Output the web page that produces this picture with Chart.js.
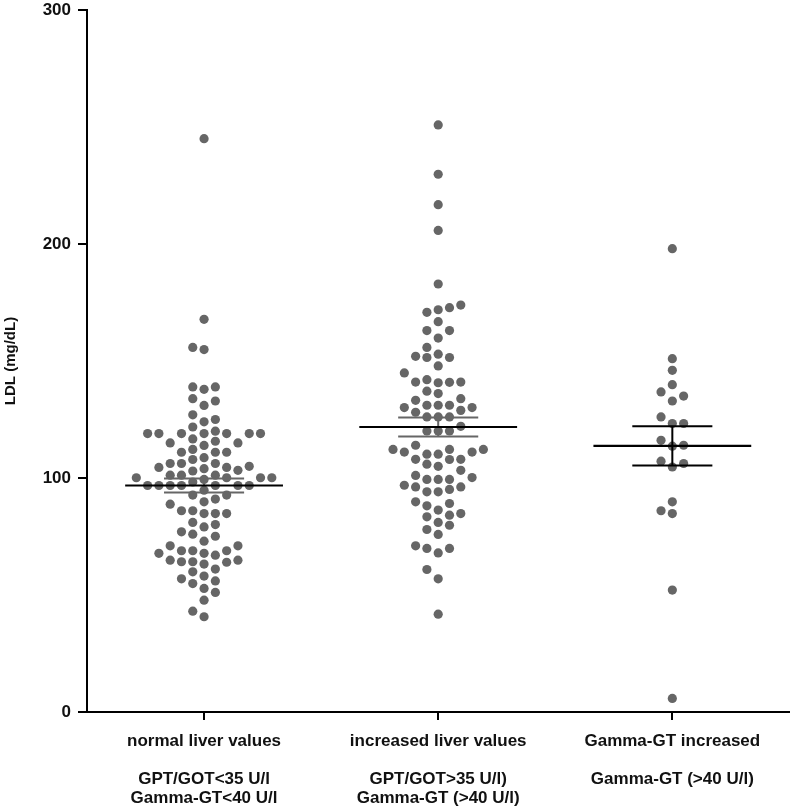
<!DOCTYPE html>
<html><head><meta charset="utf-8">
<script src="https://cdn.jsdelivr.net/npm/chart.js@4"></script>
<style>html,body{margin:0;padding:0;background:#fff}#wrap{width:794px;height:809px;position:relative}</style>
</head><body><div id="wrap"><canvas id="c"></canvas></div>
<script>
const categories = ['normal liver values', 'increased liver values', 'Gamma-GT increased'];
const subLabels = [
  ['GPT/GOT<35 U/l', 'Gamma-GT<40 U/l'],
  ['GPT/GOT>35 U/l)', 'Gamma-GT (>40 U/l)'],
  ['Gamma-GT (>40 U/l)']
];
const yTicks = [0, 100, 200, 300];
const yTitle = 'LDL (mg/dL)';

const normalLiver = [245, 167.8, 155.8, 154.9, 138.9, 138.9, 137.9, 133.9, 132.9, 131.0, 127.0, 125.0, 124.0,
  121.8, 120, 119, 119, 119, 119, 119, 119, 119, 116.7, 115.7, 115, 115, 113.9, 112.2, 111, 111, 111,
  108.7, 107.9, 106.2, 106.2, 106.2, 105, 104.5, 104.5, 104, 103.3, 103, 101.2, 101.2, 101.2,
  100.1, 100.1, 100.1, 100.1, 99.4, 98.3, 96.8, 96.8, 96.8, 96.8, 96.8, 96.8, 96.8, 94.8,
  92.7, 92.7, 91, 89.8, 88.8, 86, 86, 84.8, 84.8, 84.8, 81, 80.1, 79.1, 77, 76, 75.1, 73, 71, 71,
  68.9, 68.9, 68.9, 67.8, 67.8, 67, 64.9, 64.9, 64.2, 64.2, 64, 63.2, 61.1, 59.9, 58.1,
  56.9, 56, 54.9, 52.8, 51.1, 47.8, 43.1, 40.7];
const increasedLiver = [250.9, 229.8, 216.8, 205.8, 182.9, 173.9, 172.8, 171.9, 170.8, 166.8, 163, 163,
  159.8, 155.8, 152.9, 152, 151.5, 151.5, 147.9, 144.9, 142, 141, 141, 140.9, 140.7, 137.1, 136.1,
  133.9, 133.2, 131.1, 131.1, 131.1, 130.1, 130.1, 128.9, 128.1, 126.1, 126.1, 126.1, 122.1,
  120.1, 120.1, 120.1, 114, 112.2, 112.2, 112.2, 111.1, 111.1, 110.2, 110.2, 108, 108, 107.9, 105.9,
  105, 103.3, 101.1, 100.2, 99.4, 99.4, 99.4, 96.9, 96.2, 96.2, 95.1, 94.1, 94.1,
  89.8, 89.1, 88.1, 86.3, 84.8, 84.1, 83.4, 81, 79.8, 78, 75.9, 71, 69.9, 69.9, 68, 60.9, 56.9, 41.8];
const gammaGTIncreased = [198, 151, 146, 139.9, 136.8, 135, 132.9, 126.1, 123.3, 123.3, 116.1, 114, 113.6,
  107.2, 106.2, 104.7, 89.8, 86, 84.8, 52.1, 5.8];

const meanValues = [96.8, 121.8, 113.7];
const semValues = [3.0, 4.1, 8.4];

// ---- styling / layout constants ----
const FONT = "'Liberation Sans', Arial, Helvetica, sans-serif";
const DOT_COLOR = '#666666';
const SEM_COLORS = ['#666666', '#666666', '#000000'];
const MEAN_HALF = 0.337;   // x-units
const SEM_HALF = 0.171;    // x-units
const PX_PER_Y = 2.343;    // approx pixels per LDL unit
const COL_W = 11.3 / 234.3; // x-units per swarm column
const MIN_GAP = 10 / PX_PER_Y;

function swarm(values, center) {
  const sorted = values.slice().sort((a, b) => a - b);
  const last = {};
  const pts = [];
  sorted.forEach(v => {
    for (let k = 0; k < 60; k++) {
      const cands = k === 0 ? [0] : [-k, k];
      const free = cands.filter(c => last[c] === undefined || v - last[c] >= MIN_GAP);
      if (free.length) {
        let c = free[0];
        if (free.length === 2) {
          const a = last[free[0]] === undefined ? -1e9 : last[free[0]];
          const b = last[free[1]] === undefined ? -1e9 : last[free[1]];
          c = a <= b ? free[0] : free[1];
        }
        last[c] = v;
        pts.push({ x: center + c * COL_W, y: v });
        return;
      }
    }
  });
  return pts;
}

const groups = [normalLiver, increasedLiver, gammaGTIncreased];
const datasets = groups.map((g, i) => ({
  label: categories[i],
  data: swarm(g, i + 0.5),
  backgroundColor: DOT_COLOR,
  borderColor: DOT_COLOR,
  borderWidth: 0,
  pointRadius: 4.6,
  pointHoverRadius: 4.6
}));

const statsPlugin = {
  id: 'meanSem',
  afterDatasetsDraw(chart) {
    const { ctx, scales: { x, y } } = chart;
    ctx.save();
    ctx.lineCap = 'butt';
    meanValues.forEach((m, i) => {
      const c = i + 0.5;
      const s = semValues[i];
      ctx.strokeStyle = SEM_COLORS[i];
      ctx.lineWidth = 2;
      ctx.beginPath();
      [m + s, m - s].forEach(v => {
        ctx.moveTo(x.getPixelForValue(c - SEM_HALF), y.getPixelForValue(v));
        ctx.lineTo(x.getPixelForValue(c + SEM_HALF), y.getPixelForValue(v));
      });
      ctx.moveTo(x.getPixelForValue(c), y.getPixelForValue(m + s));
      ctx.lineTo(x.getPixelForValue(c), y.getPixelForValue(m - s));
      ctx.stroke();
      ctx.strokeStyle = '#000';
      ctx.lineWidth = 2.2;
      ctx.beginPath();
      ctx.moveTo(x.getPixelForValue(c - MEAN_HALF), y.getPixelForValue(m));
      ctx.lineTo(x.getPixelForValue(c + MEAN_HALF), y.getPixelForValue(m));
      ctx.stroke();
    });
    ctx.restore();
  }
};

new Chart(document.getElementById('c'), {
  type: 'scatter',
  data: { datasets },
  plugins: [statsPlugin],
  options: {
    responsive: true,
    maintainAspectRatio: false,
    animation: false,
    layout: { padding: { top: 10, right: 3, left: 0, bottom: 0 } },
    plugins: { legend: { display: false }, tooltip: { enabled: false } },
    scales: {
      x: {
        type: 'linear', min: 0, max: 3,
        afterBuildTicks: s => { s.ticks = categories.map((_, i) => ({ value: i + 0.5 })); },
        afterFit: s => { s.height = 97; s.paddingLeft = 0; s.paddingRight = 0; },
        ticks: {
          autoSkip: false, maxRotation: 0, minRotation: 0,
          padding: 12, color: '#111',
          font: { family: FONT, size: 17, weight: 'bold', lineHeight: 1.1176 },
          callback: (v, i) => [categories[i], ''].concat(subLabels[i])
        },
        grid: { drawOnChartArea: false, drawTicks: true, tickLength: 8, color: '#000', lineWidth: 2 },
        border: { display: true, color: '#000', width: 2 }
      },
      y: {
        min: 0, max: 300,
        afterBuildTicks: s => { s.ticks = yTicks.map(v => ({ value: v })); },
        afterFit: s => { s.width = 87; s.paddingTop = 0; s.paddingBottom = 0; },
        ticks: { padding: 7, color: '#111', font: { family: FONT, size: 17, weight: 'bold' } },
        grid: { drawOnChartArea: false, drawTicks: true, tickLength: 9, color: '#000', lineWidth: 2 },
        border: { display: true, color: '#000', width: 2 },
        title: { display: true, text: yTitle, color: '#111', padding: { top: 2, bottom: 0 },
          font: { family: FONT, size: 15, weight: 'bold' } }
      }
    }
  }
});
</script>
</body></html>
